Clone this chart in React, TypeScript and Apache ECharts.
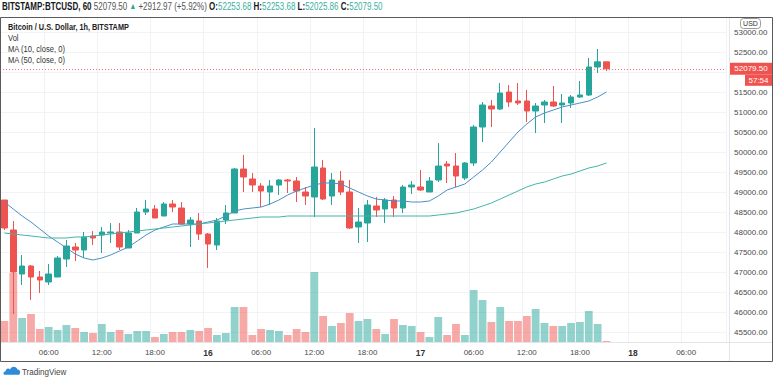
import React, { useEffect, useRef } from 'react';
import * as echarts from 'echarts';

// ---- time slots (hourly, 15th 01:00 onward; right side left empty like the reference) ----
const START_DAY = 15;
const START_HOUR = 1;
const SLOT_COUNT = 82;
const timeSlots: string[] = [];
for (let k = 0; k < SLOT_COUNT; k++) {
  const t = START_HOUR + k;
  const d = START_DAY + Math.floor(t / 24);
  const h = t % 24;
  timeSlots.push(`${d} ${String(h).padStart(2, '0')}:00`);
}

// ---- candles: [open, high, low, close] ----
const ohlc: number[][] = [
  [48800, 48800, 48050, 48100],
  [48050, 48275, 45950, 47000],
  [46950, 47425, 46675, 47150],
  [47150, 47175, 46300, 46875],
  [46875, 47025, 46475, 46800],
  [46750, 47200, 46675, 46950],
  [46875, 47400, 46875, 47350],
  [47325, 47800, 47125, 47650],
  [47625, 47725, 47275, 47550],
  [47550, 48000, 47350, 47875],
  [47900, 48025, 47675, 47850],
  [47925, 48125, 47475, 48000],
  [47975, 48225, 47725, 48000],
  [48000, 48225, 47550, 47625],
  [47600, 48050, 47600, 47975],
  [47975, 48600, 47975, 48500],
  [48500, 48800, 48425, 48575],
  [48575, 48675, 48350, 48350],
  [48400, 48750, 48400, 48700],
  [48700, 48800, 48500, 48625],
  [48600, 48750, 48175, 48200],
  [48200, 48375, 47625, 48300],
  [48275, 48475, 47800, 47950],
  [47950, 47975, 47100, 47700],
  [47675, 48350, 47550, 48275],
  [48300, 48675, 48200, 48475],
  [48475, 49600, 48475, 49575],
  [49575, 49925, 49000, 49375],
  [49325, 49475, 49000, 49175],
  [49150, 49225, 48625, 49025],
  [49000, 49300, 48675, 49150],
  [49175, 49325, 48925, 49300],
  [49300, 49325, 48975, 49275],
  [49275, 49375, 48750, 49025],
  [49000, 49125, 48675, 48900],
  [48875, 50600, 48375, 49625],
  [49600, 49800, 48800, 48825],
  [48900, 49475, 48675, 49300],
  [49275, 49525, 48925, 49000],
  [49000, 49300, 48075, 48100],
  [48125, 48600, 47725, 48250],
  [48225, 48800, 47750, 48675],
  [48650, 48875, 48375, 48550],
  [48575, 48850, 48225, 48800],
  [48800, 48900, 48375, 48600],
  [48600, 49175, 48475, 49125],
  [49125, 49275, 48950, 49175],
  [49125, 49550, 49025, 49050],
  [49000, 49375, 49000, 49275],
  [49300, 50225, 49250, 49650],
  [49700, 49775, 49225, 49650],
  [49650, 49975, 49125, 49400],
  [49350, 49750, 49300, 49725],
  [49725, 50675, 49650, 50625],
  [50625, 51250, 50250, 51175],
  [51150, 51300, 50625, 51075],
  [51075, 51725, 51050, 51475],
  [51500, 51675, 51125, 51250],
  [51275, 51725, 51175, 51225],
  [51275, 51550, 50750, 51025],
  [51025, 51225, 50475, 51150],
  [51175, 51300, 50725, 51250],
  [51250, 51650, 51125, 51150],
  [51175, 51450, 50725, 51225],
  [51225, 51425, 51100, 51375],
  [51375, 51775, 51350, 51425],
  [51425, 52350, 51400, 52125],
  [52125, 52575, 51975, 52253.68],
  [52253.68, 52253.68, 52025.86, 52079.5],
];

const volumes: number[] = [
  21, 69, 24, 28, 13, 15, 12, 17, 14, 10, 9, 18, 10, 12, 8, 11, 11, 5, 8, 10,
  10, 12, 11, 14, 7, 9, 35, 35, 7, 13, 12, 11, 7, 13, 10, 70, 26, 16, 19, 29,
  21, 23, 13, 8, 23, 17, 16, 10, 5, 25, 7, 18, 7, 52, 42, 20, 35, 21, 21, 26,
  33, 19, 16, 16, 19, 20, 31, 18, 1,
];

const ma10: number[] = [
  48750, 48575, 48400, 48250, 48075, 47900, 47750, 47600, 47450, 47350,
  47300, 47350, 47425, 47525, 47625, 47775, 47925, 48050, 48125, 48200,
  48200, 48200, 48200, 48250, 48300, 48400, 48525, 48575, 48600, 48625,
  48700, 48800, 48925, 49025, 49100, 49175, 49225, 49225, 49200, 49100,
  49000, 48900, 48825, 48800, 48775, 48775, 48750, 48750, 48775, 48900,
  49050, 49125, 49200, 49375, 49550, 49750, 50000, 50250, 50500, 50700,
  50875, 50975, 51050, 51125, 51175, 51225, 51275, 51375, 51500,
];

const ma50: number[] = [
  47975, 47950, 47925, 47900, 47875, 47850, 47850, 47850, 47875, 47875,
  47900, 47925, 47950, 47975, 48000, 48025, 48050, 48075, 48100, 48125,
  48150, 48175, 48200, 48225, 48250, 48275, 48300, 48325, 48350, 48375,
  48375, 48375, 48400, 48400, 48400, 48400, 48400, 48400, 48400, 48400,
  48400, 48400, 48400, 48400, 48400, 48400, 48400, 48400, 48400, 48425,
  48450, 48475, 48525, 48575, 48650, 48725, 48825, 48925, 49025, 49125,
  49200, 49250, 49325, 49400, 49450, 49525, 49600, 49650, 49725,
];

const priceTicks = { min: 45500, max: 53000, step: 500 };
const hiddenTick = 52000; // covered by the last-price tag in the reference
const lastPrice = 52079.5;
const countdown = '57:54';

const UP = '#26a69a';
const DOWN = '#ef5350';
const UP_VOL = 'rgba(38,166,154,0.5)';
const DOWN_VOL = 'rgba(239,83,80,0.5)';
const FONT = "'Liberation Sans', Arial, sans-serif";

const isLabelSlot = (_i: number, v: string) => parseInt(v.slice(3, 5), 10) % 6 === 0;

echarts.graphic.registerShape(
  'tvlogo',
  echarts.graphic.extendPath(
    'M2 12 C0 12 0 8 3 8 C3 5 6 4 8 6 C9 2 15 2 16 6 C19 6 20 9 18 12 Z',
    {}
  )
);

export default function App() {
  const ref = useRef<HTMLDivElement>(null);
  useEffect(() => {
    if (!ref.current) return;
    const chart = echarts.init(ref.current, undefined, { renderer: 'svg' });
    const candleData = ohlc.map(([o, h, l, c]) => [o, c, l, h]);
    const volData = volumes.map((v, i) => ({
      value: v,
      itemStyle: { color: ohlc[i][3] >= ohlc[i][0] ? UP_VOL : DOWN_VOL },
    }));
    const gridLeft = 0;
    const gridWidth = 726;
    chart.setOption({
      animation: false,
      backgroundColor: '#ffffff',
      textStyle: { fontFamily: FONT },
      grid: [
        { left: gridLeft, width: gridWidth, top: 32, height: 300 },
        { left: gridLeft, width: gridWidth, top: 18, height: 324 },
      ],
      xAxis: [
        { type: 'category', gridIndex: 0, data: timeSlots, show: false, boundaryGap: true },
        {
          type: 'category',
          gridIndex: 1,
          data: timeSlots,
          boundaryGap: true,
          axisLine: { show: false },
          axisTick: { show: false },
          axisLabel: {
            interval: isLabelSlot,
            margin: 6,
            fontSize: 8,
            color: '#4a4a4a',
            fontFamily: FONT,
            formatter: (v: string) =>
              v.slice(3) === '00:00' ? `{d|${v.slice(0, 2)}}` : v.slice(3),
            rich: { d: { fontWeight: 'bold', fontSize: 8.5, color: '#333', fontFamily: FONT } },
          },
          splitLine: { show: true, interval: isLabelSlot, lineStyle: { color: '#f0f2f6', width: 1 } },
        },
      ],
      yAxis: [
        {
          type: 'value',
          gridIndex: 0,
          position: 'right',
          min: priceTicks.min,
          max: priceTicks.max,
          interval: priceTicks.step,
          axisLine: { show: false },
          axisTick: { show: false },
          axisLabel: {
            align: 'left',
            margin: 8,
            fontSize: 8,
            color: '#4a4a4a',
            fontFamily: FONT,
            formatter: (v: number) => (v === hiddenTick ? '' : v.toFixed(2)),
          },
          splitLine: { show: true, lineStyle: { color: '#f2f3f6', width: 1 } },
        },
        { type: 'value', gridIndex: 1, min: 0, max: 324, show: false },
      ],
      series: [
        {
          type: 'bar',
          xAxisIndex: 1,
          yAxisIndex: 1,
          data: volData,
          barWidth: '88%',
          z: 1,
        },
        {
          type: 'candlestick',
          xAxisIndex: 0,
          yAxisIndex: 0,
          data: candleData,
          barWidth: 6,
          z: 3,
          itemStyle: { color: UP, color0: DOWN, borderColor: UP, borderColor0: DOWN, borderWidth: 1 },
          markLine: {
            silent: true,
            symbol: ['none', 'none'],
            label: { show: false },
            lineStyle: { color: DOWN, type: [1, 2], width: 1, opacity: 0.8 },
            data: [{ yAxis: lastPrice }],
          },
        },
        {
          type: 'line',
          xAxisIndex: 0,
          yAxisIndex: 0,
          data: ma10,
          symbol: 'none',
          z: 4,
          lineStyle: { color: '#4a8fc4', width: 1 },
        },
        {
          type: 'line',
          xAxisIndex: 0,
          yAxisIndex: 0,
          data: ma50,
          symbol: 'none',
          z: 4,
          lineStyle: { color: '#44b3aa', width: 1 },
        },
      ],
    });

    const py = chart.convertToPixel({ yAxisIndex: 0 }, lastPrice) as number;
    const green = '#3aaf9f';
    chart.setOption({
      graphic: [
        { type: 'rect', z: 50, silent: true, shape: { x: 0.5, y: 17.5, width: 772, height: 344 }, style: { fill: 'none', stroke: '#5a5a5a', lineWidth: 1 } },
        { type: 'line', z: 50, silent: true, shape: { x1: 729.5, y1: 18, x2: 729.5, y2: 361 }, style: { stroke: '#e3e5ea', lineWidth: 1 } },
        { type: 'line', z: 50, silent: true, shape: { x1: 1, y1: 342.5, x2: 772, y2: 342.5 }, style: { stroke: '#e3e5ea', lineWidth: 1 } },
        {
          type: 'text', z: 60, x: 2, y: 6.5, scaleX: 0.8,
          style: {
            text: '{b|BITSTAMP:BTCUSD, 60} {n|52079.50} {g|▲} {n|+2912.97 (+5.92%)} {k|O:}{v|52253.68} {k|H:}{v|52253.68} {k|L:}{v|52025.86} {k|C:}{v|52079.50}',
            font: `10px ${FONT}`,
            verticalAlign: 'middle',
            rich: {
              b: { fontWeight: 'bold', fontSize: 10, fill: '#131722', fontFamily: FONT },
              n: { fontSize: 10, fill: '#555', fontFamily: FONT },
              g: { fontSize: 8.5, fill: UP, fontFamily: FONT },
              k: { fontWeight: 'bold', fontSize: 10, fill: '#131722', fontFamily: FONT },
              v: { fontSize: 10, fill: green, fontFamily: FONT },
            },
          },
        },
        { type: 'text', z: 60, x: 8, y: 27, scaleX: 0.77, style: { text: 'Bitcoin / U.S. Dollar, 1h, BITSTAMP', font: `bold 9.5px ${FONT}`, fill: '#222', verticalAlign: 'middle' } },
        { type: 'text', z: 60, x: 8, y: 38, scaleX: 0.8, style: { text: 'Vol', font: `9.5px ${FONT}`, fill: '#333', verticalAlign: 'middle' } },
        { type: 'text', z: 60, x: 8, y: 49, scaleX: 0.8, style: { text: 'MA (10, close, 0)', font: `9.5px ${FONT}`, fill: '#333', verticalAlign: 'middle' } },
        { type: 'text', z: 60, x: 8, y: 60, scaleX: 0.8, style: { text: 'MA (50, close, 0)', font: `9.5px ${FONT}`, fill: '#333', verticalAlign: 'middle' } },
        { type: 'rect', z: 60, silent: true, shape: { x: 740.5, y: 18.5, width: 20, height: 10, r: 3 }, style: { fill: '#fff', stroke: '#999', lineWidth: 1 } },
        { type: 'text', z: 61, x: 750.5, y: 23.5, style: { text: 'USD', font: `7px ${FONT}`, fill: '#333', align: 'center', verticalAlign: 'middle' } },
        { type: 'rect', z: 60, silent: true, shape: { x: 730, y: py - 6, width: 42, height: 12 }, style: { fill: DOWN } },
        { type: 'text', z: 61, x: 751, y: py, style: { text: '52079.50', font: `8px ${FONT}`, fill: '#fff', align: 'center', verticalAlign: 'middle' } },
        { type: 'rect', z: 60, silent: true, shape: { x: 745, y: py + 6, width: 27, height: 11 }, style: { fill: DOWN } },
        { type: 'text', z: 61, x: 758.5, y: py + 11.5, style: { text: countdown, font: `8px ${FONT}`, fill: '#fff', align: 'center', verticalAlign: 'middle' } },
        { type: 'tvlogo', z: 60, x: 3, y: 364, scaleX: 0.9, scaleY: 0.9, style: { fill: '#2d8bd8' } },
        { type: 'text', z: 60, x: 22, y: 372, scaleX: 0.85, style: { text: 'TradingView', font: `9.5px ${FONT}`, fill: '#444', verticalAlign: 'middle' } },
      ],
    });
    return () => chart.dispose();
  }, []);
  return <div ref={ref} style={{ position: 'absolute', left: 0, top: 0, width: 775, height: 381 }} />;
}
